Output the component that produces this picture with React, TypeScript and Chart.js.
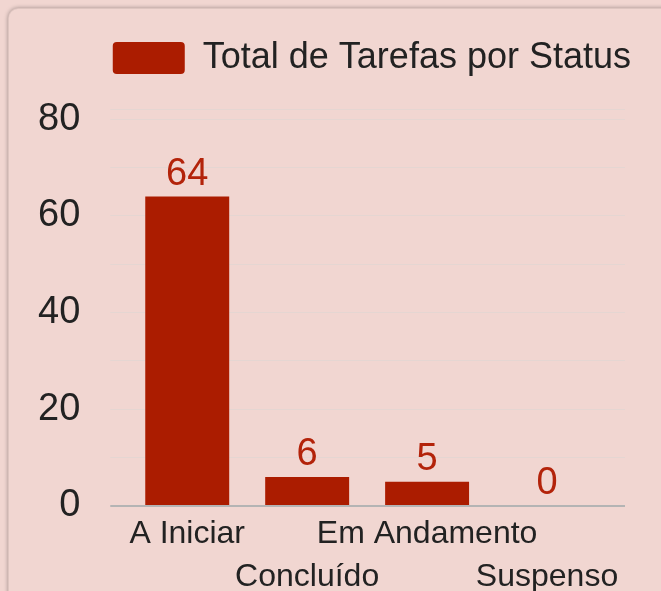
import React, { useEffect, useRef } from 'react';
import { Chart, registerables } from 'chart.js';

Chart.register(...registerables);

const categories = ['A Iniciar', 'Concluído', 'Em Andamento', 'Suspenso'];
const totals = [64, 6, 5, 0];
const seriesLabel = 'Total de Tarefas por Status';
const yTickValues = [0, 10, 20, 30, 40, 50, 60, 70, 80, 82];
const yLabelValues = [0, 20, 40, 60, 80];
const yMax = 82;

const BG = '#f1d6d1';
const BAR = '#ab1c00';
const LABEL_RED = '#b3230a';
const TEXT = '#222222';
const GRID = '#e5d6d2';
const ZERO = '#b4b4b4';
const FONT = '"Liberation Sans", Arial, sans-serif';

const valueLabels = {
  id: 'valueLabels',
  afterDatasetsDraw(chart: any) {
    const ctx = chart.ctx;
    chart.data.datasets.forEach((ds: any, di: number) => {
      const meta = chart.getDatasetMeta(di);
      meta.data.forEach((el: any, i: number) => {
        ctx.save();
        ctx.font = `38px ${FONT}`;
        ctx.fillStyle = LABEL_RED;
        ctx.textAlign = 'center';
        ctx.textBaseline = 'alphabetic';
        ctx.fillText(String(ds.data[i]), el.x, el.y - 12);
        ctx.restore();
      });
    });
  },
};

const legendSpacer = {
  id: 'legendSpacer',
  beforeLayout(chart: any) {
    const legend = chart.legend;
    if (legend && !legend.__spaced) {
      const fit = legend.fit;
      legend.fit = function () {
        fit.call(this);
        this.height += 23.5;
      };
      legend.__spaced = true;
    }
  },
};

const gridColor = (c: any) => (c.tick && c.tick.value === 0 ? ZERO : GRID);
const gridWidth = (c: any) => (c.tick && c.tick.value === 0 ? 2 : 1);
const setTicks = (scale: any) => {
  scale.ticks = yTickValues.map((v) => ({ value: v }));
};

export default function App() {
  const ref = useRef<HTMLCanvasElement>(null);

  useEffect(() => {
    if (!ref.current) return;
    const xLabels = categories.map((c, i) => (i % 2 === 0 ? [c, ''] : ['', c]));
    const chart = new Chart(ref.current, {
      type: 'bar',
      data: {
        labels: xLabels,
        datasets: [
          {
            label: seriesLabel,
            data: totals,
            backgroundColor: BAR,
            borderColor: BAR,
            borderWidth: 0,
            categoryPercentage: 0.7,
            barPercentage: 1,
          },
        ],
      },
      options: {
        responsive: false,
        animation: false,
        layout: { padding: { top: 30, left: 8, right: 20, bottom: 5 } },
        plugins: {
          tooltip: { enabled: false },
          legend: {
            display: true,
            position: 'top',
            align: 'end',
            labels: {
              color: TEXT,
              font: { family: FONT, size: 36 },
              boxWidth: 72,
              boxHeight: 32,
              padding: 10,
              useBorderRadius: true,
              borderRadius: 4,
            },
          },
        },
        scales: {
          x: {
            grid: { display: false, drawTicks: false },
            border: { display: false },
            ticks: {
              color: TEXT,
              font: { family: FONT, size: 32, lineHeight: 1.36 },
              autoSkip: false,
              maxRotation: 0,
              minRotation: 0,
              padding: 6,
            },
          },
          y: {
            min: 0,
            max: yMax,
            afterBuildTicks: setTicks,
            border: { display: false },
            grid: { color: gridColor, lineWidth: gridWidth, tickLength: 17, drawTicks: true },
            ticks: {
              color: TEXT,
              font: { family: FONT, size: 38 },
              autoSkip: false,
              padding: 30,
              callback: (v: any) => (yLabelValues.includes(Number(v)) ? String(v) : ''),
            },
          },
          y2: {
            position: 'right',
            min: 0,
            max: yMax,
            afterBuildTicks: setTicks,
            border: { display: false },
            grid: { color: gridColor, lineWidth: gridWidth, tickLength: 18, drawOnChartArea: false, drawTicks: true },
            ticks: {
              font: { family: FONT, size: 38 },
              autoSkip: false,
              padding: 8,
              callback: () => '',
            },
          },
        },
      },
      plugins: [legendSpacer, valueLabels],
    });
    return () => chart.destroy();
  }, []);

  return (
    <div
      style={{
        position: 'fixed',
        left: 0,
        top: 0,
        width: 661,
        height: 591,
        overflow: 'hidden',
        background: BG,
      }}
    >
      <div
        style={{
          position: 'absolute',
          left: 8,
          top: 8,
          width: 720,
          height: 700,
          borderRadius: 10,
          background: BG,
          border: '1px solid rgba(0,0,0,0.08)',
          boxShadow: '0 0 4px rgba(0,0,0,0.35)',
        }}
      />
      <canvas
        ref={ref}
        width={661}
        height={610}
        style={{ position: 'absolute', left: 0, top: 0, display: 'block', width: 661, height: 610 }}
      />
    </div>
  );
}
